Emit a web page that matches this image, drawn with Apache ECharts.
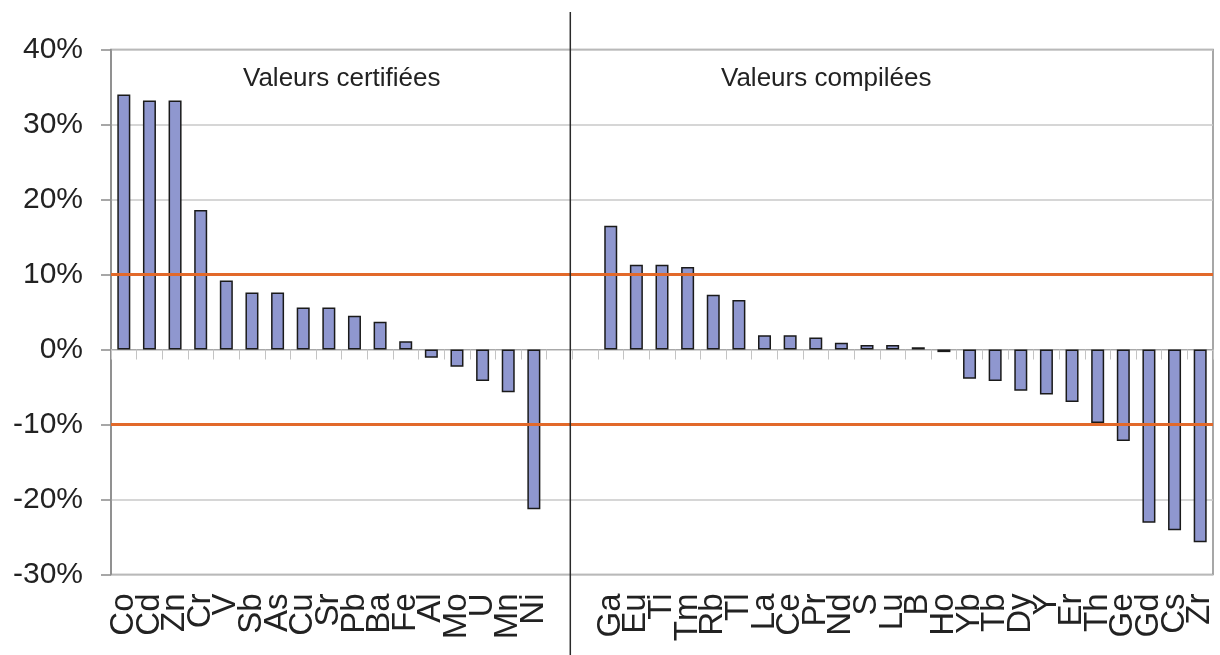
<!DOCTYPE html>
<html>
<head>
<meta charset="utf-8">
<script src="https://cdn.jsdelivr.net/npm/echarts@6/dist/echarts.min.js"></script>
<style>
html,body{margin:0;padding:0;background:#fff;}
#chart{width:1220px;height:655px;}
</style>
</head>
<body>
<div id="chart"></div>
<script>
// ---- data ----
const leftCategories = ['Co','Cd','Zn','Cr','V','Sb','As','Cu','Sr','Pb','Ba','Fe','Al','Mo','U','Mn','Ni'];
const leftValues = [34.0, 33.2, 33.2, 18.6, 9.2, 7.6, 7.6, 5.6, 5.6, 4.5, 3.7, 1.1, -1.1, -2.3, -4.2, -5.7, -21.3];
const rightCategories = ['Ga','Eu','Ti','Tm','Rb','Tl','La','Ce','Pr','Nd','S','Lu','B','Ho','Yb','Tb','Dy','Y','Er','Th','Ge','Gd','Cs','Zr'];
const rightValues = [16.5, 11.3, 11.3, 11.0, 7.3, 6.6, 1.9, 1.9, 1.6, 0.9, 0.6, 0.6, 0.3, -0.35, -3.9, -4.2, -5.5, -6.0, -7.0, -9.8, -12.2, -23.1, -24.1, -25.7];
const gapCategories = ['', ''];
const yTicks = [-30, -20, -10, 0, 10, 20, 30, 40];
const limitValues = [10, -10];
const groupTitles = ['Valeurs certifiées', 'Valeurs compilées'];

// ---- build ----
const categories = leftCategories.concat(gapCategories, rightCategories);
const values = leftValues.concat(gapCategories.map(() => null), rightValues);
const font = "'Liberation Sans', Arial, sans-serif";

const chart = echarts.init(document.getElementById('chart'), null, {renderer: 'canvas'});
chart.setOption({
  animation: false,
  backgroundColor: '#ffffff',
  title: [
    {text: groupTitles[0], left: 238, top: 61, textStyle: {fontFamily: font, fontSize: 26, fontWeight: 'normal', color: '#222'}},
    {text: groupTitles[1], left: 716, top: 61, textStyle: {fontFamily: font, fontSize: 26, fontWeight: 'normal', color: '#222'}}
  ],
  grid: {left: 111, right: 7, top: 49.5, bottom: 80.5, show: true, borderColor: '#8a8a8a', borderWidth: 1.5, containLabel: false},
  xAxis: [
    {
      type: 'category', data: categories, position: 'bottom',
      axisLine: {show: true, onZero: true, lineStyle: {color: '#a8a8a8', width: 1.2}},
      axisTick: {show: true, length: 10, lineStyle: {color: '#c4c4c4', width: 1}},
      axisLabel: {show: false}, splitLine: {show: false}
    },
    {
      type: 'category', data: categories, position: 'bottom',
      axisLine: {show: false, onZero: false}, axisTick: {show: false},
      axisLabel: {show: true, interval: 0, rotate: 90, margin: 19, fontFamily: font, fontSize: 33, color: '#222'},
      splitLine: {show: false}
    }
  ],
  yAxis: {
    type: 'value', min: yTicks[0], max: yTicks[yTicks.length - 1], interval: 10,
    axisLine: {show: true, lineStyle: {color: '#8a8a8a', width: 1.5}},
    axisTick: {show: true, length: 10, lineStyle: {color: '#8a8a8a', width: 1.5}},
    axisLabel: {formatter: '{value}%', fontFamily: font, fontSize: 30, color: '#222', margin: 28},
    splitLine: {show: true, lineStyle: {color: '#c8c8c8', width: 1.5}}
  },
  series: [{
    type: 'bar', xAxisIndex: 0, data: values, barWidth: 13,
    itemStyle: {color: '#8f97cf', borderColor: '#1a1a1a', borderWidth: 1.5},
    markLine: {
      silent: true, symbol: 'none', label: {show: false},
      lineStyle: {color: '#e2692a', width: 3, type: 'solid'},
      data: limitValues.map(v => ({yAxis: v}))
    }
  }]
});

// separator between the two groups, at the boundary of the gap categories
const gapStart = leftCategories.length;
const p1 = chart.convertToPixel({xAxisIndex: 0}, gapStart);
const p2 = chart.convertToPixel({xAxisIndex: 0}, gapStart + 1);
const sepX = (p1 + p2) / 2 - 2;
chart.setOption({
  graphic: [{
    type: 'line', shape: {x1: sepX, y1: 12, x2: sepX, y2: 655},
    style: {stroke: '#2a2a2a', lineWidth: 1.5}, z: 100
  }]
});
</script>
</body>
</html>
